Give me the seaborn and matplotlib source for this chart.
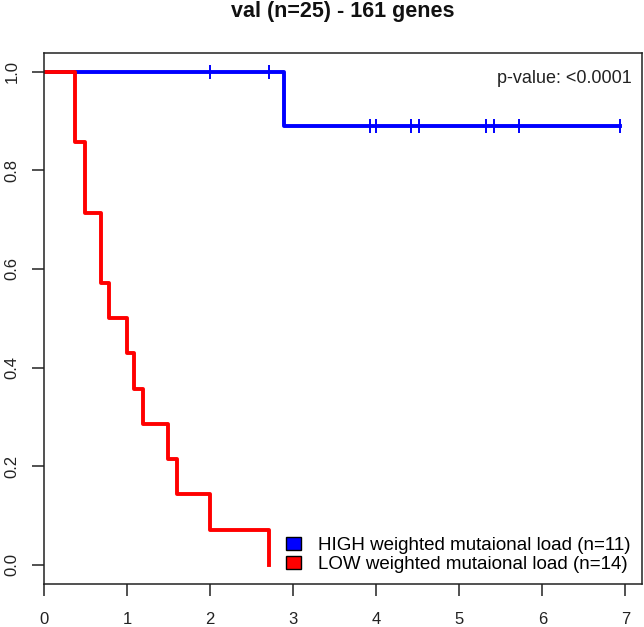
import numpy as np
import pandas as pd
import matplotlib
matplotlib.use("Agg")
import matplotlib.pyplot as plt
import seaborn as sns
from matplotlib.patches import Patch

# follow-up times (years) and event flags (1 = event, 0 = censored)
high_times = [2.0, 2.71, 2.89, 3.92, 4.0, 4.42, 4.51, 5.32, 5.42, 5.72, 6.93]
high_events = [0, 0, 1, 0, 0, 0, 0, 0, 0, 0, 0]
low_times = [0.37, 0.37, 0.49, 0.49, 0.69, 0.69, 0.79, 1.0, 1.08, 1.19, 1.49, 1.6, 2.0, 2.71]
low_events = [1] * 14

groups = ["HIGH weighted mutaional load (n=11)", "LOW weighted mutaional load (n=14)"]
colors = ["#0000ff", "#ff0000"]
title = "val (n=25) - 161 genes"
pval_text = "p-value: <0.0001"


def km_curve(times, events):
    df = pd.DataFrame({"t": times, "e": events}).sort_values("t")
    n = len(df)
    surv = 1.0
    xs, ys = [0.0], [1.0]
    cens_x, cens_y = [], []
    for t, grp in df.groupby("t", sort=True):
        d = grp["e"].sum()
        if d > 0:
            surv *= 1 - d / n
            xs.append(t)
            ys.append(surv)
        c = (grp["e"] == 0).sum()
        if c > 0:
            cens_x.append(t)
            cens_y.append(surv)
        n -= len(grp)
    # extend line to last observation
    last = df["t"].max()
    if xs[-1] != last:
        xs.append(last)
        ys.append(surv)
    return xs, ys, cens_x, cens_y


plt.rcParams["font.family"] = ["Liberation Sans", "DejaVu Sans"]
fig = plt.figure(figsize=(6.44, 6.27), dpi=100)
ax = fig.add_axes([0.068, 0.0686, 0.929, 0.847])

for times, events, col, lab in [(high_times, high_events, colors[0], groups[0]),
                                (low_times, low_events, colors[1], groups[1])]:
    xs, ys, cx, cy = km_curve(times, events)
    line_df = pd.DataFrame({"time": xs, "surv": ys})
    sns.lineplot(data=line_df, x="time", y="surv", ax=ax, color=col, linewidth=2.8,
                 drawstyle="steps-post", estimator=None, sort=False)
    if cx:
        cens_df = pd.DataFrame({"time": cx, "surv": cy})
        sns.scatterplot(data=cens_df, x="time", y="surv", ax=ax, color=col,
                        marker="|", s=90, linewidth=1.4, zorder=3)

ax.set_xlim(0, 7.2)
ax.set_ylim(-0.039, 1.038)
ax.set_xticks(range(0, 8))
ax.set_yticks([0.0, 0.2, 0.4, 0.6, 0.8, 1.0])
ax.set_yticklabels(["0.0", "0.2", "0.4", "0.6", "0.8", "1.0"], rotation=90, va="center")
ax.set_xlabel("")
ax.set_ylabel("")
ax.tick_params(axis="both", direction="out", length=8.5, width=1.1, labelsize=12,
               colors="#222222", labelcolor="#222222")
ax.tick_params(axis="x", pad=12)
ax.tick_params(axis="y", pad=9)
for sp in ax.spines.values():
    sp.set_color("#222222")
    sp.set_linewidth(1.1)

ax.set_title(title, fontsize=15.5, fontweight="bold", pad=26, color="#111111")
ax.text(0.983, 0.951, pval_text, transform=ax.transAxes, ha="right", va="center",
        fontsize=13, color="#222222")

handles = [Patch(facecolor=c, edgecolor="black", linewidth=1) for c in colors]
ax.legend(handles, groups, loc="lower right", frameon=False, fontsize=13.5,
          handlelength=0.8, handleheight=0.7, handletextpad=0.9, labelspacing=0.1,
          borderaxespad=0.3, borderpad=0.3, bbox_to_anchor=(1.0, 0.0))

fig.savefig("out.png", dpi=100)
